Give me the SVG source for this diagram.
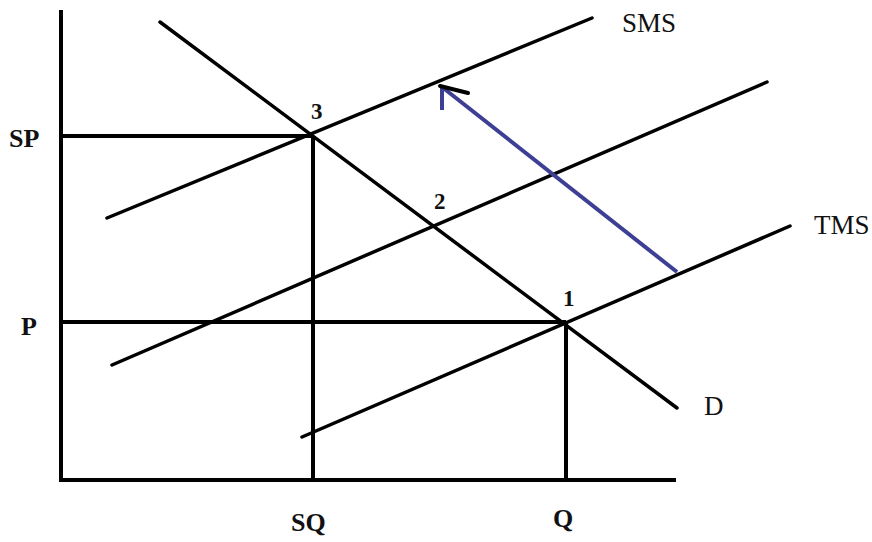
<svg xmlns="http://www.w3.org/2000/svg" width="872" height="542" viewBox="0 0 872 542">
<style>
.ln{stroke:#000;stroke-width:3.5;fill:none;stroke-linecap:round}
.ax{stroke:#000;stroke-width:4;fill:none}
.lb{font-family:"Liberation Serif","Times New Roman",serif;font-size:27px;fill:#111}
.b{font-weight:bold;font-size:26px}
.n{font-weight:bold;font-size:23px}
</style>
<rect width="872" height="542" fill="#fff"/>
<g id="axes">
<line class="ax" x1="61" y1="10" x2="61" y2="482"/>
<line class="ax" x1="59" y1="480" x2="676" y2="480"/>
</g>
<g id="connectors">
<line class="ln" x1="160" y1="22" x2="677" y2="408"/>
<line class="ln" x1="107" y1="218" x2="592" y2="18"/>
<line class="ln" x1="112" y1="365" x2="767" y2="82"/>
<line class="ln" x1="302" y1="437" x2="790" y2="226"/>
<line class="ax" x1="61" y1="136" x2="313" y2="136"/>
<line class="ax" x1="313" y1="136" x2="313" y2="480"/>
<line class="ax" x1="61" y1="322" x2="566" y2="322"/>
<line class="ax" x1="566" y1="322" x2="566" y2="480"/>
<line x1="677" y1="272" x2="442" y2="87" stroke="#3c3f94" stroke-width="4"/>
<line x1="442" y1="88" x2="442" y2="110" stroke="#3c3f94" stroke-width="4"/>
<line x1="440" y1="86" x2="468" y2="93" stroke="#000" stroke-width="4" stroke-linecap="round"/>
</g>
<g id="labels">
<text class="lb" x="622" y="32">SMS</text>
<text class="lb" x="814" y="234">TMS</text>
<text class="lb" x="704" y="415">D</text>
<text class="lb n" x="311" y="119">3</text>
<text class="lb n" x="434" y="209">2</text>
<text class="lb n" x="563" y="306">1</text>
<text class="lb b" x="9" y="147">SP</text>
<text class="lb b" x="21" y="335">P</text>
<text class="lb b" x="291" y="531">SQ</text>
<text class="lb b" x="553" y="527">Q</text>
</g>
</svg>
